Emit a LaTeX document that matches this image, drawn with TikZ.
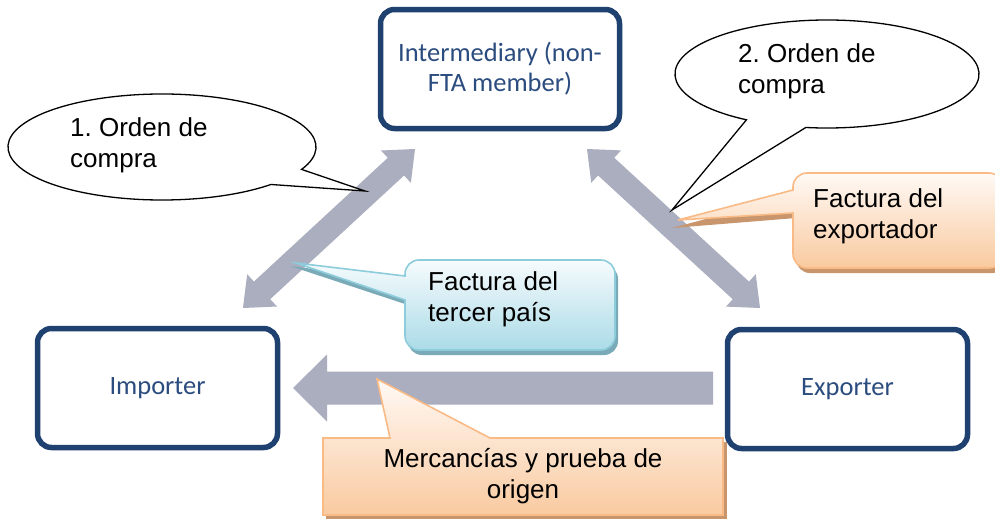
\documentclass[tikz,border=0pt]{standalone}
\usepackage{fontspec}
\setmainfont{Liberation Sans}
\newfontfamily\calibrifont{Carlito}
\usetikzlibrary{calc}
\definecolor{boxblue}{HTML}{1F4170}
\definecolor{txtblue}{HTML}{2B4C7E}
\definecolor{agray}{HTML}{AAAEBE}
\definecolor{orline}{HTML}{FABA86}
\definecolor{ortop}{HTML}{FFF9F5}
\definecolor{orbot}{HTML}{F9CAA0}
\definecolor{orshadow}{HTML}{C8956C}
\definecolor{blline}{HTML}{8CCCDB}
\definecolor{bltop}{HTML}{F6FBFD}
\definecolor{blbot}{HTML}{ABDBE7}
\definecolor{blshadow}{HTML}{7AAAB8}
\newcommand\mydblarrow[2]{%
  \coordinate (#1h) at ($(#1)!26pt!(#2)$);
  \coordinate (#2h) at ($(#2)!26pt!(#1)$);
  \fill[agray] (#1) -- ($(#1h)!22pt!90:(#2)$) -- ($(#1h)!12pt!90:(#2)$)
    -- ($(#2h)!12pt!-90:(#1)$) -- ($(#2h)!22pt!-90:(#1)$) -- (#2)
    -- ($(#2h)!22pt!90:(#1)$) -- ($(#2h)!12pt!90:(#1)$)
    -- ($(#1h)!12pt!-90:(#2)$) -- ($(#1h)!22pt!-90:(#2)$) -- cycle;}
\begin{document}
\frenchspacing
\begin{tikzpicture}[x=1pt,y=-1pt,
  bluebox/.style={draw=boxblue, line width=5.5pt, rounded corners=14pt, fill=white,
    font=\calibrifont\fontsize{26.5}{30}\selectfont, text=txtblue, align=center, inner sep=0pt},
  ctext/.style={font=\fontsize{26}{31}\selectfont, inner sep=0pt, text=black},
  bubble/.style={fill=white, draw=black, line width=1.3pt, line join=miter},
  orcall/.style={top color=ortop, bottom color=orbot, draw=orline, line width=1.6pt},
  blcall/.style={top color=bltop, bottom color=blbot, draw=blline, line width=1.6pt}]
\clip (0,0) rectangle (995,520);
\fill[white] (0,0) rectangle (995,520);

% boxes
\node[bluebox, minimum width=239pt, minimum height=119pt] (inter) at (500,69) {Intermediary (non-\\FTA member)};
\node[bluebox, minimum width=240pt, minimum height=119pt] (imp) at (157.5,388) {Importer};
\node[bluebox, minimum width=240pt, minimum height=119pt] (exp) at (847.5,389) {Exporter};

% arrows
\coordinate (L1) at (243,308); \coordinate (L2) at (415,149);
\coordinate (R1) at (587,149); \coordinate (R2) at (760,308);
\coordinate (H1) at (713,388); \coordinate (H2) at (293,388);
\mydblarrow{L1}{L2}
\mydblarrow{R1}{R2}
\fill[agray] ($(H1)+(0,-16.5)$) -- ($(H2)+(34,-16.5)$) -- ($(H2)+(34,-33.5)$) -- (H2)
  -- ($(H2)+(34,33.5)$) -- ($(H2)+(34,16.5)$) -- ($(H1)+(0,16.5)$) -- cycle;

% ellipse callouts
\coordinate (c1tip) at (365,191);
\draw[bubble] (c1tip) -- ($(162,147)+(25:154 and 53)$)
  arc[start angle=25, end angle=-315, x radius=154, y radius=53] -- cycle;
\coordinate (c2tip) at (672,210);
\draw[bubble] (c2tip) -- ($(827,74)+(122:152 and 54)$)
  arc[start angle=122, end angle=458, x radius=152, y radius=54] -- cycle;

% exporter invoice callout
\fill[orshadow] (672,228) -- (796,195) -- (796,192) arc[start angle=180,end angle=270,radius=14]
  -- (992,178) arc[start angle=270,end angle=360,radius=14]
  -- (1006,259) arc[start angle=0,end angle=90,radius=14]
  -- (810,273) arc[start angle=90,end angle=180,radius=14] -- (796,218) -- cycle;
\shadedraw[orcall] (678,220) -- (793,190) -- (793,187) arc[start angle=180,end angle=270,radius=14]
  -- (989,173) arc[start angle=270,end angle=360,radius=14]
  -- (1003,254) arc[start angle=0,end angle=90,radius=14]
  -- (807,268) arc[start angle=90,end angle=180,radius=14] -- (793,213) -- cycle;

% third-country invoice callout
\fill[blshadow] (290,266) -- (408,281) -- (408,279) arc[start angle=180,end angle=270,radius=14]
  -- (604,265) arc[start angle=270,end angle=360,radius=14]
  -- (618,341) arc[start angle=0,end angle=90,radius=14]
  -- (422,355) arc[start angle=90,end angle=180,radius=14] -- (408,305) -- cycle;
\shadedraw[blcall] (296,263) -- (405,276) -- (405,274) arc[start angle=180,end angle=270,radius=14]
  -- (601,260) arc[start angle=270,end angle=360,radius=14]
  -- (615,336) arc[start angle=0,end angle=90,radius=14]
  -- (419,350) arc[start angle=90,end angle=180,radius=14] -- (405,300) -- cycle;

% goods callout
\fill[orshadow] (326,442) rectangle (727,519);
\shadedraw[orcall] (377,379) -- (490,438) -- (723,438) -- (723,515) -- (323,515) -- (323,438) -- (390,438) -- cycle;

% texts
\node[ctext, anchor=north west, align=left] (t1) at (70,117) {1. Orden de\\compra};
\node[ctext, anchor=north west, align=left] (t2) at (738,43) {2. Orden de\\compra};
\node[ctext, anchor=north west, align=left] (t3) at (813,188) {Factura del\\exportador};
\node[ctext, anchor=north west, align=left] (t4) at (428,271) {Factura del\\tercer país};
\node[ctext, anchor=north, align=center] (t5) at (523,448) {Mercancías y prueba de\\origen};
\end{tikzpicture}
\end{document}
